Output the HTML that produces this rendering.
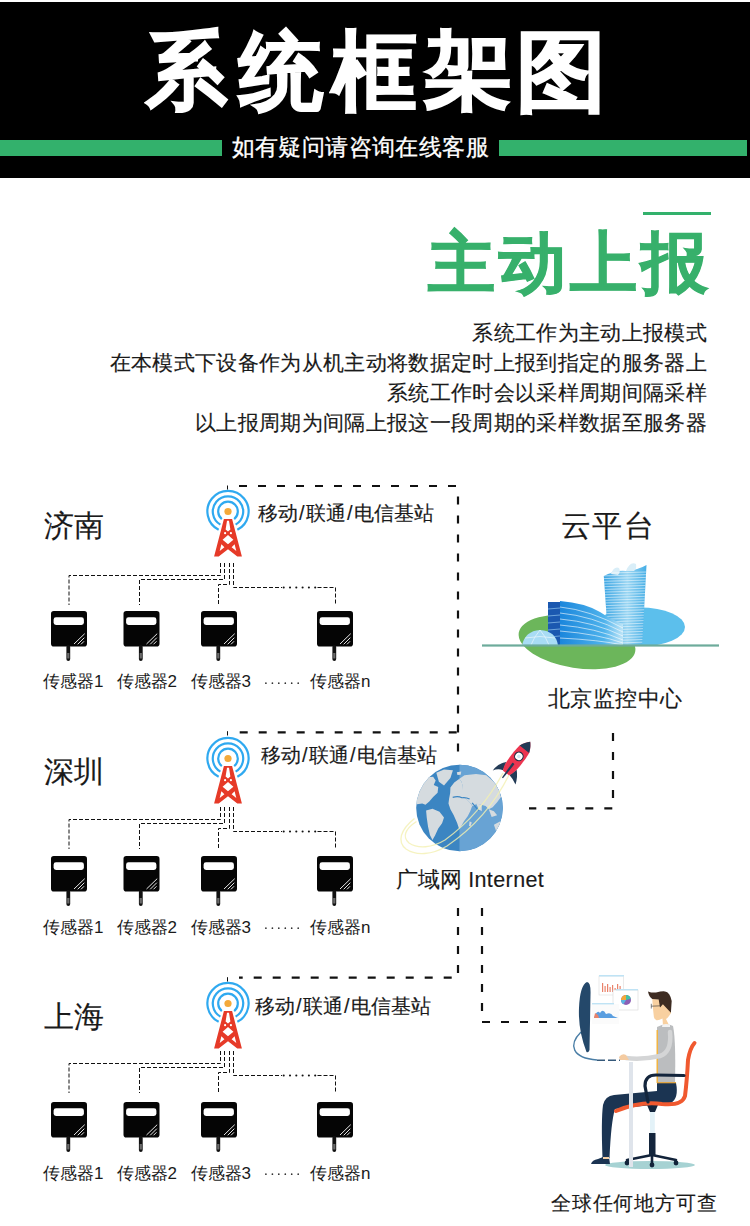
<!DOCTYPE html>
<html><head><meta charset="utf-8">
<style>
html,body{margin:0;padding:0;background:#fff;}
body{width:750px;height:1226px;position:relative;overflow:hidden;font-family:"Liberation Sans",sans-serif;color:#1a1a1a;}
.t{position:absolute;line-height:1;white-space:nowrap;}
#hdr{position:absolute;left:0;top:2px;width:750px;height:176px;background:#000;}
.gb{position:absolute;height:16px;top:140px;background:#33b16c;}
svg{position:absolute;left:0;top:0;}
.tt{position:absolute;line-height:1;white-space:nowrap;font-size:87px;font-weight:700;color:#fff;-webkit-text-stroke:1.8px #fff;transform-origin:0 0;}
.sl{margin-left:1px;margin-right:1.5px;}
.n{-webkit-text-stroke:0.15px #1a1a1a;}
</style></head><body>
<div id="hdr"></div>
<div class="gb" style="left:0;width:222px"></div>
<div class="gb" style="left:499px;width:248px"></div>
<div class="tt" style="left:146.2px;top:28.3px;transform:scale(0.927,0.974)">系</div>
<div class="tt" style="left:238.9px;top:28.7px;transform:scale(0.967,0.978)">统</div>
<div class="tt" style="left:331.6px;top:27.3px;transform:scale(0.970,1.008)">框</div>
<div class="tt" style="left:423.7px;top:28.3px;transform:scale(1.027,0.956)">架</div>
<div class="tt" style="left:515.8px;top:26.7px;transform:scale(1.039,1.012)">图</div>

<div class="t" id="sub" style="left:231.5px;top:135.7px;font-size:23px;letter-spacing:0.42px;-webkit-text-stroke:0.3px #fff;color:#fff;">如有疑问请咨询在线客服</div>

<div style="position:absolute;left:643px;top:212px;width:68px;height:3px;background:#33b16c"></div>
<div class="t" id="h2" style="left:428px;top:229px;font-size:67px;font-weight:700;color:#37b06b;letter-spacing:4px;-webkit-text-stroke:1px #37b06b;">主动上报</div>

<div class="t n" style="right:43px;top:318px;font-size:21px;letter-spacing:0.33px;text-align:right;line-height:30px;color:#1a1a1a">系统工作为主动上报模式<br>在本模式下设备作为从机主动将数据定时上报到指定的服务器上<br>系统工作时会以采样周期间隔采样<br>以上报周期为间隔上报这一段周期的采样数据至服务器</div>

<!-- SVG diagram -->
<svg width="750" height="1226" viewBox="0 0 750 1226">
<defs>
 <g id="tower">
  <circle cx="0" cy="0" r="3.6" fill="#f4a93a"/>
  <g fill="none" stroke="#2fa9f0" stroke-width="2.2">
   <path d="M-9.35,18.35 A20.6,20.6 0 1 1 9.35,18.35"/>
   <path d="M-7.6,13.16 A15.2,15.2 0 1 1 7.6,13.16"/>
   <path d="M-6.17,7.62 A9.8,9.8 0 1 1 6.17,7.62"/>
  </g>
  <path fill="#e63a28" fill-rule="evenodd" d="M-4.1,7.6 H4.1 L13.9,45 H9.3 L0,37.8 L-9.3,45 H-13.9 Z
   M-1,9.3 H1 L2.4,17.9 L0,20.1 L-2.4,17.9 Z
   M0,23.4 L5.4,28.2 L0,32.8 L-5.4,28.2 Z
   M-6.6,32.8 L-3.6,35.8 L-8.3,39.4 Z
   M6.6,32.8 L3.6,35.8 L8.3,39.4 Z"/>
  <circle cx="-2.9" cy="21.7" r="1.1" fill="#fff"/>
  <circle cx="2.9" cy="21.7" r="1.1" fill="#fff"/>
 </g>
 <g id="sensor">
  <rect x="0" y="0" width="36" height="35.6" rx="2.8" fill="#050505"/>
  <rect x="2.6" y="6.3" width="30.3" height="7.7" rx="2.4" fill="#fff"/>
  <g stroke="#fff" stroke-width="0.9">
   <line x1="23" y1="33" x2="33.7" y2="22.7"/>
   <line x1="26.7" y1="33.3" x2="33.3" y2="26.7"/>
   <line x1="30" y1="33.3" x2="33" y2="30.3"/>
  </g>
  <rect x="15.4" y="34" width="3.8" height="16" rx="1.9" fill="#111"/>
  <rect x="16.2" y="42" width="2.2" height="5.5" fill="#6a6a6a"/>
 </g>
 <g id="bL">
  <g fill="none" stroke="#111" stroke-width="1" stroke-dasharray="4 2">
   <path d="M220.5,563 V575.5 H69 V605"/>
   <path d="M224.5,563 V579.5 H139.5 V605"/>
   <path d="M229.5,563 V584.5 H218.5 V605"/>
   <path d="M233.5,563 V587.5 H282"/><path d="M317.5,587.5 H335.5 V605"/>
   <circle cx="283.7" cy="587.5" r="1.05" fill="#111" stroke="none"/><circle cx="290.0" cy="587.5" r="1.05" fill="#111" stroke="none"/><circle cx="296.3" cy="587.5" r="1.05" fill="#111" stroke="none"/><circle cx="302.6" cy="587.5" r="1.05" fill="#111" stroke="none"/><circle cx="308.9" cy="587.5" r="1.05" fill="#111" stroke="none"/><circle cx="315.2" cy="587.5" r="1.05" fill="#111" stroke="none"/>
  </g>
 </g>
 <g id="bS">
  <use href="#sensor" x="51" y="611"/>
  <use href="#sensor" x="123.5" y="611"/>
  <use href="#sensor" x="201" y="611"/>
  <use href="#sensor" x="317" y="611"/>
  <circle cx="265.9" cy="683.2" r="0.85" fill="#333"/><circle cx="272.4" cy="683.2" r="0.85" fill="#333"/><circle cx="278.8" cy="683.2" r="0.85" fill="#333"/><circle cx="285.3" cy="683.2" r="0.85" fill="#333"/><circle cx="291.7" cy="683.2" r="0.85" fill="#333"/><circle cx="298.2" cy="683.2" r="0.85" fill="#333"/>
 </g>
</defs>
<use href="#tower" x="228" y="511.5"/><use href="#tower" x="228" y="758.5"/><use href="#tower" x="228" y="1003.5"/>
<use href="#bL" x="0" y="0"/><use href="#bL" x="0" y="244"/><use href="#bL" x="0" y="488"/>
<use href="#bS" x="0" y="0"/><use href="#bS" x="0" y="245"/><use href="#bS" x="0" y="491"/>
<g stroke="#111" stroke-width="1"><path d="M227.5,485.5 V489.5"/><path d="M227.5,731.2 V735.5"/><path d="M227.5,977.2 V981.5"/></g>


<!-- cloud platform buildings -->
<g id="city">
 <ellipse cx="577" cy="642" rx="59" ry="26" transform="rotate(9 577 642)" fill="#6cb65b"/>
 <clipPath id="aboveGround"><rect x="480" y="540" width="250" height="105.4"/></clipPath>
 <ellipse cx="640" cy="627" rx="45" ry="19.5" fill="#5cbfec" clip-path="url(#aboveGround)"/>
 <defs>
  <linearGradient id="tw" x1="0" y1="0" x2="1" y2="0">
   <stop offset="0" stop-color="#3aa5e3"/><stop offset="0.55" stop-color="#9ad6f3"/><stop offset="1" stop-color="#45aee6"/>
  </linearGradient>
  <linearGradient id="lb" x1="0" y1="0" x2="1" y2="0">
   <stop offset="0" stop-color="#1a86dc"/><stop offset="0.7" stop-color="#4fb3ec"/><stop offset="1" stop-color="#bfe6f8"/>
  </linearGradient>
 </defs>
 <path d="M603.8,576 Q615,570 626,571 Q638,570 646.5,565 L642.2,645 L608.6,645 Z" fill="url(#tw)"/>
 <path d="M611,574 Q614,566 619,568 Q621,572 618,575 Z M626,571 Q630,561 636,564 Q637,569 634,571 Z" fill="#d9eef8"/>
 <g stroke="#fff" stroke-width="0.7" opacity="0.75"><line x1="603.8" y1="573.2" x2="646.2" y2="572.0"/><line x1="603.8" y1="575.9" x2="646.0" y2="574.7"/><line x1="603.9" y1="578.6" x2="645.9" y2="577.4"/><line x1="604.0" y1="581.3" x2="645.7" y2="580.1"/><line x1="604.2" y1="584.0" x2="645.6" y2="582.8"/><line x1="604.4" y1="586.7" x2="645.4" y2="585.5"/><line x1="604.6" y1="589.4" x2="645.3" y2="588.2"/><line x1="604.8" y1="592.1" x2="645.1" y2="590.9"/><line x1="605.0" y1="594.8" x2="645.0" y2="593.6"/><line x1="605.2" y1="597.5" x2="644.8" y2="596.3"/><line x1="605.4" y1="600.2" x2="644.7" y2="599.0"/><line x1="605.6" y1="602.9" x2="644.5" y2="601.7"/><line x1="605.8" y1="605.6" x2="644.4" y2="604.4"/><line x1="606.0" y1="608.3" x2="644.2" y2="607.1"/><line x1="606.2" y1="611.0" x2="644.1" y2="609.8"/><line x1="606.4" y1="613.7" x2="643.9" y2="612.5"/><line x1="606.6" y1="616.4" x2="643.8" y2="615.2"/><line x1="606.8" y1="619.1" x2="643.6" y2="617.9"/><line x1="606.9" y1="621.8" x2="643.5" y2="620.6"/><line x1="607.1" y1="624.5" x2="643.3" y2="623.3"/><line x1="607.3" y1="627.2" x2="643.2" y2="626.0"/><line x1="607.5" y1="629.9" x2="643.0" y2="628.7"/><line x1="607.7" y1="632.6" x2="642.9" y2="631.4"/><line x1="607.9" y1="635.3" x2="642.7" y2="634.1"/><line x1="608.1" y1="638.0" x2="642.6" y2="636.8"/><line x1="608.3" y1="640.7" x2="642.4" y2="639.5"/><line x1="608.5" y1="643.4" x2="642.3" y2="642.2"/></g>
 <path d="M560,601 Q585,603 600,612 Q612,620 623,624 L623,645 L560,645 Z" fill="url(#lb)"/>
 <g stroke="#fff" stroke-width="0.7" fill="none" opacity="0.85">
  <path d="M560,607 Q590,610 623,628"/><path d="M560,613 Q592,616 623,632"/>
  <path d="M560,619 Q594,622 623,636"/><path d="M560,625 Q596,628 623,640"/>
  <path d="M560,631 Q598,634 623,643"/><path d="M560,638 Q600,640 623,645"/>
 </g>
 <rect x="548" y="602" width="12" height="43.4" fill="#1b58b0"/>
 <g stroke="#8fc4ee" stroke-width="0.7"><line x1="548" y1="609" x2="560" y2="608"/><line x1="548" y1="616" x2="560" y2="615"/><line x1="548" y1="623" x2="560" y2="622"/><line x1="548" y1="630" x2="560" y2="629"/><line x1="548" y1="637" x2="560" y2="636"/></g>
 <path d="M522,645.4 Q525,631 540,630 Q556,631 558,645.4 Z" fill="#a8dcf4"/>
 <g stroke="#fff" stroke-width="0.6" fill="none" opacity="0.9"><path d="M540,630 Q534,637 531,645"/><path d="M540,630 Q546,637 549,645"/><path d="M525,638 Q540,635 555,638"/></g>
 <rect x="482" y="644.4" width="237" height="2.2" fill="#6dab9b"/>
</g>

<!-- globe -->
<g id="globe">
 <clipPath id="gclip"><circle cx="459.5" cy="808" r="43.3"/></clipPath>
 <circle cx="459.5" cy="808" r="43.3" fill="#3b85c2"/>
 <g clip-path="url(#gclip)">
  <rect x="459.5" y="760" width="50" height="100" fill="#68a3d4"/>
  <g transform="translate(412,760) scale(0.128)" fill="#d5dbdf">
   <path d="M190,100 L250,75 L320,80 L300,140 L250,200 L210,170 Z"/>
   <path d="M20,300 L45,230 L90,170 L125,135 L165,130 L185,160 L170,195 L205,210 L200,255 L165,290 L135,325 L105,350 L80,340 L40,345 L20,340 Z"/>
   <path d="M110,395 L160,380 L215,405 L250,450 L235,495 L205,535 L180,590 L160,625 L140,585 L125,520 L115,450 Z"/>
   <path d="M300,215 L330,175 L365,150 L385,165 L395,200 L400,290 L420,300 L450,330 L470,360 L455,400 L435,440 L405,480 L385,515 L368,540 L352,490 L325,430 L300,385 L285,340 L290,300 L298,260 Z"/>
   <path d="M365,150 L410,120 L500,110 L580,120 L640,170 L680,230 L695,290 L665,330 L630,370 L600,385 L575,360 L540,350 L505,342 L475,362 L452,332 L420,300 L385,292 L395,200 L385,165 Z"/>
   <path d="M500,340 L545,350 L545,400 L522,385 Z"/>
  </g><g transform="translate(412,760) scale(0.128)" fill="none" stroke="#3b85c2" stroke-width="9"><path d="M318,292 Q360,280 390,295 Q420,290 450,305"/><path d="M470,335 L520,395"/></g><g transform="translate(412,760) scale(0.128)" fill="#d5dbdf">
   <path d="M600,385 L640,400 L665,432 L622,445 Z"/>
   <path d="M640,505 L705,470 L710,545 L660,565 Z"/>
   <path d="M450,478 L467,488 L456,522 L446,510 Z"/>
   <path d="M350,95 L385,90 L380,115 L355,118 Z"/>
   <path d="M450,125 L500,115 L490,140 Z"/>
  </g>
 </g>
 <g fill="none" stroke="#f4f1b2" stroke-width="1.3" opacity="0.8">
  <path d="M503,773 C490,797 471,821 445,840 C432,848 418,849 409,843 C402,837 405,829 416.5,821.5"/>
  <path d="M509,775 C495,803 475,827 447,846 C432,855 416,856 406,849 C397,842 400,830 414.5,818.5"/>
 </g>
</g>
<!-- rocket -->
<g transform="translate(506,773) rotate(-52.2)">
 <path d="M9,-6.5 Q2,-12.5 -6.2,-11.9 Q-1.5,-9.5 0.5,-4 Z" fill="#233b56"/>
 <path d="M9,6.5 Q4,12 -3.2,14.5 Q-0.5,9.5 0.5,4 Z" fill="#233b56"/>
 <path d="M0,-3.8 C4,-6.5 12,-7 20,-6.8 C26,-6.6 29,-6.2 30,-6 C34,-4.5 37,-2.5 39.5,0 C37,2.5 34,4.5 30,6 C29,6.2 26,6.6 20,6.8 C12,7 4,6.5 0,3.8 Z" fill="#ec3550"/>
 <path d="M30,-6 C34,-4.5 37,-2.5 39.5,0 C37,2.5 34,4.5 30,6 Z" fill="#233b56"/>
 <path d="M12,-1.3 Q13,0 12,1.3 L-6.1,0.9 L-6.1,-0.4 Z" fill="#233b56"/>
 <circle cx="21" cy="0" r="4.8" fill="#1f2f45"/>
 <circle cx="21" cy="0" r="3.7" fill="#fff"/>
 <circle cx="21" cy="0" r="1.8" fill="#cfe8f4"/>
</g>

<!-- person -->
<g id="person">
 <ellipse cx="650" cy="1165" rx="45" ry="4" fill="#a6d2d3"/>
 <!-- charts -->
 <rect x="599" y="976" width="24.5" height="19" fill="#fff" stroke="#dcdcdc" stroke-width="0.6"/>
 <rect x="599" y="975" width="25" height="1.5" fill="#bfe3f5"/>
 <g fill="#e9826a"><rect x="602" y="983" width="1.2" height="9"/><rect x="604.5" y="986" width="1.2" height="6"/><rect x="607" y="984" width="1.2" height="8"/><rect x="609.5" y="987" width="1.2" height="5"/><rect x="612" y="985" width="1.2" height="7"/><rect x="614.5" y="988" width="1.2" height="4"/><rect x="617" y="984" width="1.2" height="8"/><rect x="619.5" y="986" width="1.2" height="6"/></g>
 <rect x="613" y="990" width="25" height="20" fill="#fff" stroke="#d8d8d8" stroke-width="0.6"/>
 <rect x="616" y="989" width="22" height="1.4" fill="#bfe3f5"/>
 <circle cx="626" cy="1000" r="5" fill="#8c5fb5"/>
 <path d="M626,1000 L626,995 A5,5 0 0 1 630.8,998.7 Z" fill="#44c2a6"/>
 <path d="M626,1000 L621,1000 A5,5 0 0 1 626,995 Z" fill="#f4a93a"/>
 <path d="M626,1000 L621,1000 A5,5 0 0 0 623.5,1004.3 Z" fill="#5ab7e2"/>
 <rect x="592" y="1004" width="27" height="20" fill="#fbfbfb"/>
 <rect x="592" y="1003" width="22" height="1.4" fill="#bfe3f5"/>
 <path d="M594,1018 Q597,1009 600,1013 Q603,1008 606,1014 Q611,1012 613,1016 L618,1018 Z" fill="#5a9ee0"/>
 <path d="M594,1018 L595,1013 L598,1015 L599,1018 Z" fill="#e9826a"/>
 <!-- monitor -->
 <path d="M581,1032 C568,1045 572,1058 597,1060" fill="none" stroke="#4a7ea6" stroke-width="1.4"/>
 <path d="M597,1060.3 H620" stroke="#35597a" stroke-width="1.4" stroke-dasharray="8 3"/>
 <path d="M587,982 Q591,982 590.5,995 L589.5,1050 Q588.5,1053 586.5,1052 Q578,1030 579,1008 Q580,985 587,982 Z" fill="#24486a"/>
 <!-- chair legs -->
 <g stroke="#12233a" stroke-width="2.6" fill="none" stroke-linecap="round">
  <path d="M652,1155 L627,1160"/><path d="M652,1155 L676,1160"/><path d="M652,1155 L652,1163"/>
 </g>
 <g fill="#12233a"><circle cx="627" cy="1163" r="2.4"/><circle cx="652" cy="1165" r="2.4"/><circle cx="676" cy="1163" r="2.4"/></g>
 <rect x="649" y="1133" width="6.5" height="22" fill="#13253c"/>
 <rect x="650" y="1111" width="4.8" height="22" fill="#e3f2f8"/>
 <path d="M647,1105 H658 L655,1112 H650 Z" fill="#13253c"/>
 <!-- pants -->
 <path d="M657,1083 L676,1083 Q679,1098 671,1103 L615,1109 Q611,1122 609.5,1158 L602.5,1158 Q601,1120 603,1105 Q605,1096 614,1095 L657,1091 Z" fill="#1b3452"/>
 <path d="M603,1157 L609,1157 L610,1164 L591,1164 Q592,1160 598,1159 Z" fill="#1b3452"/>
 <path d="M603,1157 L609,1157 L609,1159 L603,1159 Z" fill="#f3cfa5"/>
 <!-- chair seat -->
 <path d="M616,1111 Q640,1101 662,1104 Q682,1106 685,1096 Q687,1080 688,1060 Q690,1048 694.5,1043" fill="none" stroke="#f0592f" stroke-width="4" stroke-linecap="round"/>
 <!-- torso -->
 <path d="M657,1027 Q666,1022 673,1026 Q676,1040 675,1083 L657,1083 Z" fill="#bbbdbf"/>
 <path d="M656.5,1030 L658,1030 L658,1083 L656.5,1083 Z" fill="#f2b441"/>
 <rect x="657" y="1082" width="19" height="1.3" fill="#e0a544"/>
 <!-- armrest -->
 <path d="M648,1102 L645,1086 Q645,1075 656,1075 L684,1075.5" fill="none" stroke="#13253c" stroke-width="3.2" stroke-linecap="round"/>
 <!-- arm -->
 <path d="M670,1032 Q672,1052 660,1056 Q642,1060 626,1058" fill="none" stroke="#d4d5d6" stroke-width="4.5" stroke-linecap="round"/>
 <path d="M619,1057 Q622,1053 626,1055 L629,1060 L620,1060 Z" fill="#f4cba1"/>
 <!-- desk leg -->
 <rect x="629" y="1062" width="4" height="105" fill="#dfe4eb"/>
 <!-- head -->
 <path d="M652.3,999 L671,1000 L671,1013 Q668,1018 666,1019 L669,1025 L663,1026 L662.5,1018.5 Q659,1020.5 656.5,1020.2 Q654,1019 653.9,1017 L652.8,1007 Z" fill="#f8d0a0"/>
 <path d="M648,991.4 Q652,993 656,992.5 Q662,991 665,991.4 Q670,992 671.7,1001 L670.9,1012.7 L662.9,1004.2 L660,1007.4 L658.7,999.4 L652.3,998.9 Q649,997 648,991.4 Z" fill="#3e2c22"/>
 <g stroke="#333" stroke-width="0.6" fill="none"><path d="M651.3,1006.2 L661,1005.8"/><path d="M651.3,1003.8 V1008.5"/></g>
 <path d="M662.5,1024.5 Q666,1023.5 670,1024.5 L670,1027 L662,1027 Z" fill="#f2f2f2"/>
</g>

<!-- thick dashed -->
<g fill="none" stroke="#111" stroke-width="2.2" stroke-dasharray="8 11">
 <path d="M239,486 H456.5 Q458,486 458,488"/><path d="M458,486 V752" stroke-dashoffset="8.4"/>
 <path d="M239.7,732.4 H458"/>
 <path d="M458,908 V977.7 H239"/>
 <path d="M482,908 V1022 H566"/>
 <path d="M613,733 V808.3 H529"/>
</g>
</svg>

<div class="t n" style="left:44px;top:511px;font-size:30px;">济南</div>
<div class="t n" style="left:44px;top:757px;font-size:30px;">深圳</div>
<div class="t n" style="left:44px;top:1002px;font-size:30px;">上海</div>
<div class="t n" style="left:258px;top:503px;font-size:20px;">移动<span class="sl">/</span>联通<span class="sl">/</span>电信基站</div>
<div class="t n" style="left:261px;top:745px;font-size:20px;">移动<span class="sl">/</span>联通<span class="sl">/</span>电信基站</div>
<div class="t n" style="left:255px;top:996px;font-size:20px;">移动<span class="sl">/</span>联通<span class="sl">/</span>电信基站</div>

<div class="t n" style="left:561px;top:510.5px;font-size:30px;letter-spacing:1.3px;">云平台</div>
<div class="t n" style="left:548px;top:688px;font-size:22px;letter-spacing:0.45px;">北京监控中心</div>
<div class="t n" style="left:396px;top:869px;font-size:22px;">广域网 <span style="font-size:21.5px;letter-spacing:0.4px">Internet</span></div>
<div class="t n" style="left:551px;top:1193px;font-size:20px;letter-spacing:0.8px;">全球任何地方可查</div>
<div class="t" style="left:43px;top:673px;font-size:17px;">传感器1</div>
<div class="t" style="left:116.5px;top:673px;font-size:17px;">传感器2</div>
<div class="t" style="left:190.5px;top:673px;font-size:17px;">传感器3</div>
<div class="t" style="left:310px;top:673px;font-size:17px;">传感器n</div>
<div class="t" style="left:43px;top:918.5px;font-size:17px;">传感器1</div>
<div class="t" style="left:116.5px;top:918.5px;font-size:17px;">传感器2</div>
<div class="t" style="left:190.5px;top:918.5px;font-size:17px;">传感器3</div>
<div class="t" style="left:310px;top:918.5px;font-size:17px;">传感器n</div>
<div class="t" style="left:43px;top:1164.5px;font-size:17px;">传感器1</div>
<div class="t" style="left:116.5px;top:1164.5px;font-size:17px;">传感器2</div>
<div class="t" style="left:190.5px;top:1164.5px;font-size:17px;">传感器3</div>
<div class="t" style="left:310px;top:1164.5px;font-size:17px;">传感器n</div>
</body></html>
